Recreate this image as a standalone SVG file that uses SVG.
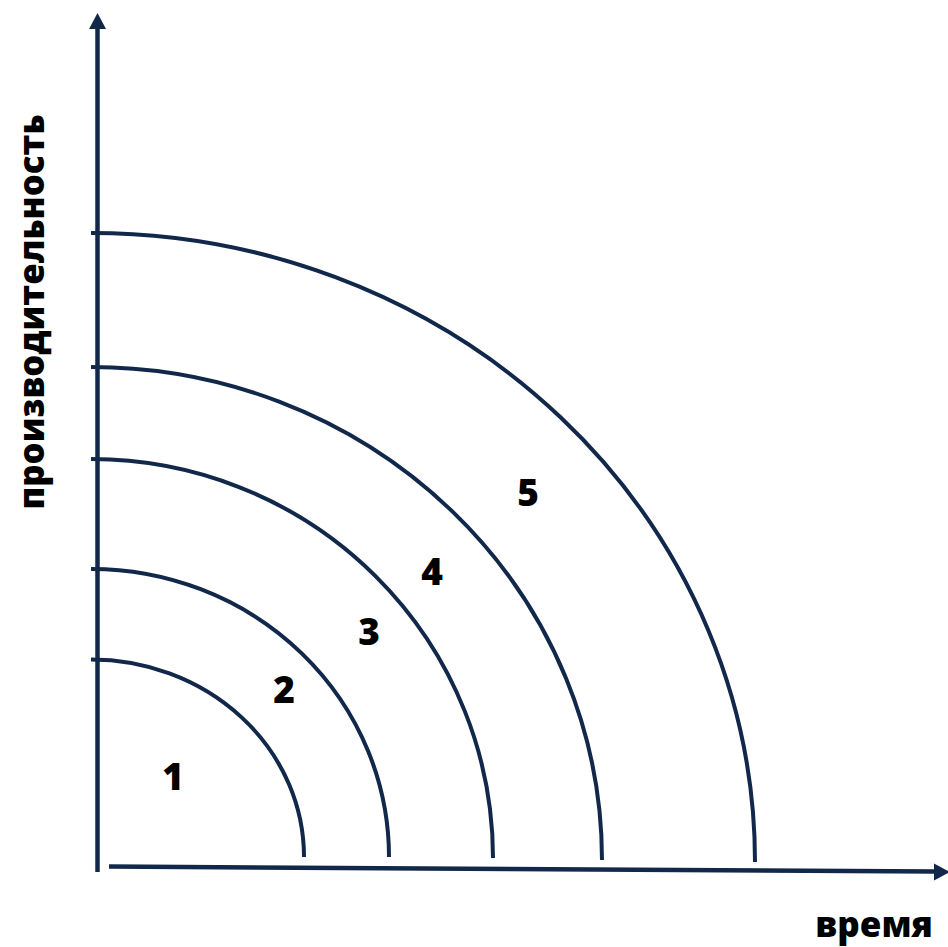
<svg xmlns="http://www.w3.org/2000/svg" width="948" height="947" viewBox="0 0 948 947">
<style>
.ax{stroke:#12284a;stroke-width:4.5;fill:none}
.arc{stroke:#12284a;stroke-width:4;fill:none}
.lbl{font-family:"Open Sans","Liberation Sans",sans-serif;font-weight:800;fill:#000;font-size:37px;text-anchor:middle}
.ylbl{font-size:34.7px}
.xlbl{font-size:35px}
</style>
<rect width="948" height="947" fill="#fff"/>
<g id="connectors">
<line class="ax" x1="97.5" y1="872" x2="97.5" y2="26"/>
<polygon points="97.5,13 106,29 89,29" fill="#12284a"/>
<line class="ax" x1="109" y1="866.5" x2="936" y2="871.5"/>
<polygon points="950,872 934,863.5 934,880.5" fill="#12284a"/>
</g>
<g id="arc1"><path class="arc" d="M91,659.5 A213,197.5 0 0 1 304,857"/></g>
<g id="arc2"><path class="arc" d="M91,569 A298,288 0 0 1 389,857"/></g>
<g id="arc3"><path class="arc" d="M91,459 A402,399 0 0 1 493,858"/></g>
<g id="arc4"><path class="arc" d="M91,367 A511,493 0 0 1 602,860"/></g>
<g id="arc5"><path class="arc" d="M91,233 A664,629 0 0 1 755,862"/></g>
<g id="labels">
<text class="lbl" x="173" y="790">1</text>
<text class="lbl" x="284" y="703">2</text>
<text class="lbl" x="369" y="645">3</text>
<text class="lbl" x="432" y="585">4</text>
<text class="lbl" x="528" y="506">5</text>
</g>
<g id="axis-labels">
<text class="lbl ylbl" transform="translate(44,312) rotate(-90)">производительность</text>
<text class="lbl xlbl" x="874" y="937">время</text>
</g>
</svg>
